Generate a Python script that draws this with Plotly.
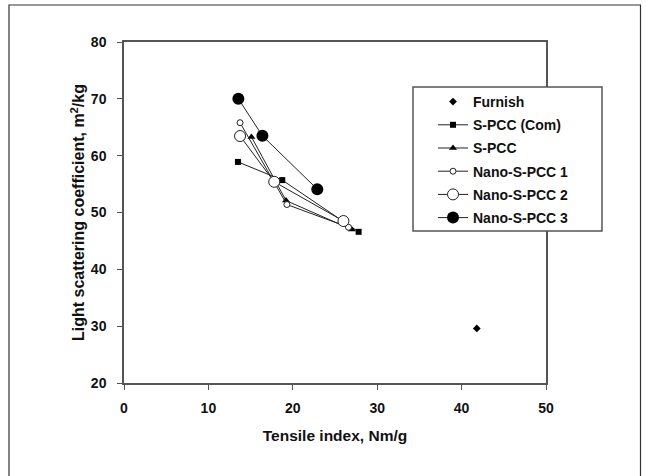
import plotly.graph_objects as go

# Data
furnish_x = [41.8]
furnish_y = [29.6]

spcc_com_x = [13.5, 18.75, 27.8]
spcc_com_y = [58.9, 55.7, 46.6]

spcc_x = [15.1, 19.2, 27.0]
spcc_y = [63.3, 52.1, 47.0]

nano1_x = [13.75, 19.3, 26.6]
nano1_y = [65.8, 51.4, 47.4]

nano2_x = [13.75, 17.8, 26.0]
nano2_y = [63.45, 55.4, 48.5]

nano3_x = [13.55, 16.4, 22.9]
nano3_y = [70.0, 63.5, 54.1]

x_ticks = [0, 10, 20, 30, 40, 50]
y_ticks = [20, 30, 40, 50, 60, 70, 80]

LINE = "#222222"
FONT = "Liberation Sans, Arial"

fig = go.Figure()

fig.add_trace(go.Scatter(x=furnish_x, y=furnish_y, mode="markers", name="Furnish",
                         legendgroup="a",
                         marker=dict(symbol="diamond", size=6, color="black")))
fig.add_trace(go.Scatter(x=spcc_com_x, y=spcc_com_y, mode="lines+markers", name="S-PCC (Com)",
                         legendgroup="b",
                         line=dict(color=LINE, width=1),
                         marker=dict(symbol="square", size=6, color="black")))
fig.add_trace(go.Scatter(x=spcc_x, y=spcc_y, mode="lines+markers", name="S-PCC",
                         legendgroup="c",
                         line=dict(color=LINE, width=1),
                         marker=dict(symbol="triangle-up", size=7, color="black")))
fig.add_trace(go.Scatter(x=nano1_x, y=nano1_y, mode="lines+markers", name="Nano-S-PCC 1",
                         legendgroup="d",
                         line=dict(color=LINE, width=1),
                         marker=dict(symbol="circle", size=6, color="white",
                                     line=dict(color=LINE, width=1))))
fig.add_trace(go.Scatter(x=nano2_x, y=nano2_y, mode="lines+markers", name="Nano-S-PCC 2",
                         legendgroup="e",
                         line=dict(color=LINE, width=1),
                         marker=dict(symbol="circle", size=11, color="white",
                                     line=dict(color=LINE, width=1))))
fig.add_trace(go.Scatter(x=nano3_x, y=nano3_y, mode="lines+markers", name="Nano-S-PCC 3",
                         legendgroup="f",
                         line=dict(color=LINE, width=1),
                         marker=dict(symbol="circle", size=12, color="black")))

axis_common = dict(
    showgrid=False, zeroline=False,
    showline=True, linecolor="#555555", linewidth=1.5, mirror=True,
    ticks="outside", ticklen=5, tickcolor="#555555", tickwidth=1,
    tickfont=dict(family=FONT, size=14, color="#111111", weight="bold"),
)

fig.update_xaxes(range=[0, 50], tickvals=x_ticks, ticklabelstandoff=6,
                 title=dict(text="Tensile index, Nm/g",
                            font=dict(family=FONT, size=15.5, color="#111111", weight="bold"),
                            standoff=16),
                 **axis_common)
fig.update_yaxes(range=[20, 80], tickvals=y_ticks, ticklabelstandoff=8,
                 title=dict(text="Light scattering coefficient, m<sup>2</sup>/kg",
                            font=dict(family=FONT, size=16, color="#111111", weight="bold"),
                            standoff=2),
                 **axis_common)

# pixel geometry of the plot area: x 124..546, y 42..383
fig.update_layout(
    width=646, height=476,
    margin=dict(l=124, r=100, t=42, b=93),
    paper_bgcolor="white", plot_bgcolor="white",
    showlegend=True,
    legend=dict(x=(433 - 124) / 422, y=(383 - 86) / 341, xanchor="left", yanchor="top",
                bgcolor="rgba(0,0,0,0)", borderwidth=0,
                tracegroupgap=2,
                font=dict(family=FONT, size=14, color="#111111", weight="bold")),
    shapes=[
        # legend frame (covers the right axis line like the reference)
        dict(type="rect", xref="paper", yref="paper",
             x0=(413 - 124) / 422, x1=(602 - 124) / 422,
             y0=(383 - 231) / 341, y1=(383 - 87) / 341,
             fillcolor="white", line=dict(color="#555555", width=1.5), layer="above"),
        # outer image frame
        dict(type="rect", xref="paper", yref="paper",
             x0=(9 - 124) / 422, x1=(640.5 - 124) / 422,
             y0=-0.4, y1=(383 - 5) / 341,
             line=dict(color="#333333", width=1.2), layer="above"),
    ],
)

fig.write_html("out.html", config={"displayModeBar": False},
               post_script="document.body.style.margin='0';")
